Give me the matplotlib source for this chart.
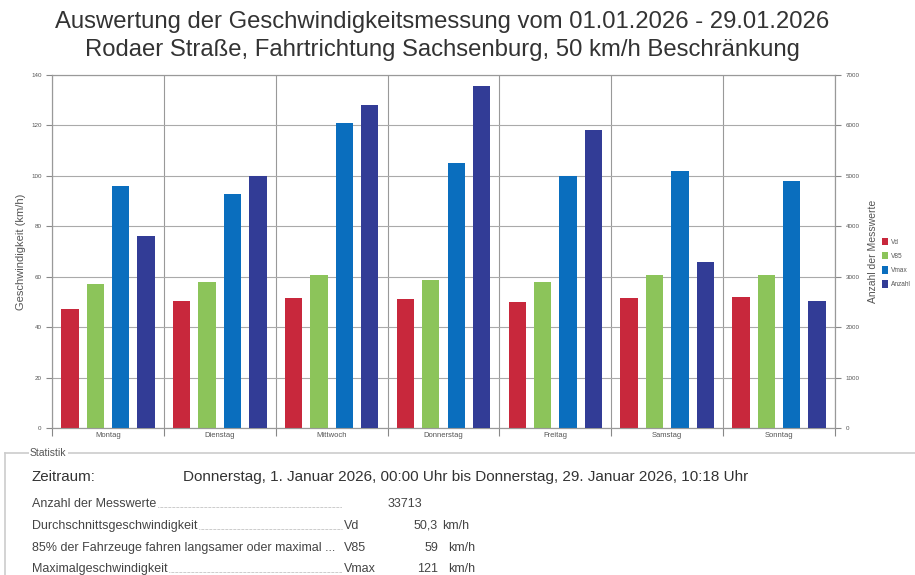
import matplotlib.pyplot as plt
import numpy as np

plt.rcParams['font.family'] = ['Liberation Sans', 'DejaVu Sans']

# data
days = ["Montag", "Dienstag", "Mittwoch", "Donnerstag", "Freitag", "Samstag", "Sonntag"]
vd = [47.1, 50.2, 51.5, 51.0, 50.0, 51.5, 52.0]
v85 = [57.0, 58.0, 60.5, 58.5, 58.0, 60.5, 60.5]
vmax = [96, 93, 121, 105, 100, 102, 98]
anzahl = [3810, 5000, 6400, 6780, 5900, 3300, 2523]

series_names = ["Vd", "V85", "Vmax", "Anzahl"]
colors = ["#c8283c", "#8cc45a", "#0a6ebe", "#323c96"]

W, H = 915, 575


def fx(x):
    return x / W


def fy(y):
    return 1 - y / H


fig = plt.figure(figsize=(W / 100, H / 100), dpi=100)
fig.patch.set_facecolor("white")

ax = fig.add_axes([fx(52), fy(428), fx(835 - 52), (428 - 75) / H])
ax2 = ax.twinx()

x = np.arange(len(days)) + 0.5
step = 0.227
bw = 0.155
ax.bar(x - 1.5 * step, vd, bw, color=colors[0], label=series_names[0], zorder=3)
ax.bar(x - 0.5 * step, v85, bw, color=colors[1], label=series_names[1], zorder=3)
ax.bar(x + 0.5 * step, vmax, bw, color=colors[2], label=series_names[2], zorder=3)
ax2.bar(x + 1.5 * step, anzahl, bw, color=colors[3], label=series_names[3], zorder=3)

ax.set_xlim(0, 7)
ax.set_ylim(0, 140)
ax2.set_ylim(0, 7000)
ax.set_yticks(range(0, 141, 20))
ax2.set_yticks(range(0, 7001, 1000))

# vertical separators between days
ax.set_xticks(range(0, 8))
ax.set_xticklabels([])
ax.set_xticks(x, minor=True)
ax.set_xticklabels(days, minor=True, fontsize=5.5, color="#555555")
ax.tick_params(axis="x", which="minor", length=0, pad=3)
ax.tick_params(axis="x", which="major", length=6, color="#888888")
ax.grid(axis="x", which="major", color="#999999", lw=0.8, zorder=0)
ax.grid(axis="y", color="#aaaaaa", lw=0.8, zorder=0)
ax.set_axisbelow(True)

ax.tick_params(axis="y", labelsize=4.5, labelcolor="#555555", length=4, color="#888888")
ax2.tick_params(axis="y", labelsize=4.5, labelcolor="#555555", length=4, color="#888888")
for a in (ax, ax2):
    for s in a.spines.values():
        s.set_color("#999999")
        s.set_linewidth(0.8)

ax.set_ylabel("Geschwindigkeit (km/h)", fontsize=8, color="#555555", labelpad=4)
ax2.set_ylabel("Anzahl der Messwerte", fontsize=7.5, color="#555555", labelpad=6)

h1, l1 = ax.get_legend_handles_labels()
h2, l2 = ax2.get_legend_handles_labels()
fig.legend(h1 + h2, l1 + l2, loc="center left", bbox_to_anchor=(fx(878), fy(263)),
           fontsize=4.7, frameon=False, handlelength=1.0, handleheight=1.4,
           handletextpad=0.4, labelspacing=0.95, labelcolor="#555555",
           borderaxespad=0.2)

fig.text(0.483, fy(22), "Auswertung der Geschwindigkeitsmessung vom 01.01.2026 - 29.01.2026",
         ha="center", va="center", fontsize=17.2, color="#333333")
fig.text(0.483, fy(50), "Rodaer Straße, Fahrtrichtung Sachsenburg, 50 km/h Beschränkung",
         ha="center", va="center", fontsize=17.2, color="#333333")

# statistics box
fig.add_artist(plt.Line2D([fx(5), 1], [fy(453), fy(453)], color="#cccccc", lw=1.2))
fig.add_artist(plt.Line2D([fx(5), fx(5)], [fy(453), 0], color="#cccccc", lw=1.2))
fig.text(fx(30), fy(453), "Statistik", fontsize=7.5, color="#555555", va="center",
         bbox=dict(facecolor="white", edgecolor="none", pad=1))

fig.text(fx(32), fy(477), "Zeitraum:", fontsize=10.9, color="#333333", va="center")
fig.text(fx(183), fy(477),
         "Donnerstag, 1. Januar 2026, 00:00 Uhr bis Donnerstag, 29. Januar 2026, 10:18 Uhr",
         fontsize=11, color="#333333", va="center")

rows = [
    ("Anzahl der Messwerte", "", "33713", ""),
    ("Durchschnittsgeschwindigkeit", "Vd", "50,3", "km/h"),
    ("85% der Fahrzeuge fahren langsamer oder maximal ...", "V85", "59", "km/h"),
    ("Maximalgeschwindigkeit", "Vmax", "121", "km/h"),
]
row_y = [504, 526, 548, 569]
unit_x = [0, 442, 448, 448]
for (label, sym, val, unit), yy, ux in zip(rows, row_y, unit_x):
    t = fig.text(fx(32), fy(yy), label, fontsize=9, color="#444444", va="center")
    if not label.endswith("..."):
        # dotted leader up to the symbol column
        fig.canvas.draw()
        bb = t.get_window_extent()
        fig.add_artist(plt.Line2D([bb.x1 / W + 0.002, fx(342)], [fy(yy + 3), fy(yy + 3)],
                                  color="#888888", lw=0.6, ls=(0, (0.6, 1.0))))
    if sym:
        fig.text(fx(344), fy(yy), sym, fontsize=9, color="#444444", va="center")
        fig.text(fx(438), fy(yy), val, fontsize=9, color="#444444", va="center", ha="right")
        fig.text(fx(ux), fy(yy), unit, fontsize=9, color="#444444", va="center")
    else:
        fig.text(fx(388), fy(yy), val, fontsize=9, color="#444444", va="center")

fig.savefig("out.png", dpi=100)
